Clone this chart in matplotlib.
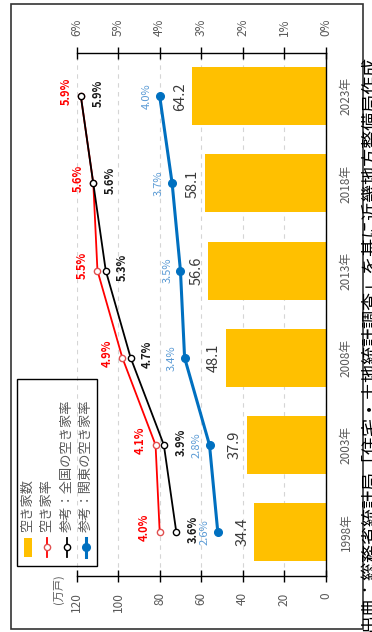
import matplotlib
matplotlib.use('Agg')
import matplotlib.pyplot as plt
from matplotlib.patches import Rectangle
from matplotlib.lines import Line2D

plt.rcParams['font.family'] = ['Noto Sans CJK JP', 'DejaVu Sans']

# data
years = ['1998年', '2003年', '2008年', '2013年', '2018年', '2023年']
akiya_count = [34.4, 37.9, 48.1, 56.6, 58.1, 64.2]      # 万戸
akiya_rate = [4.0, 4.1, 4.9, 5.5, 5.6, 5.9]              # %
zenkoku_rate = [3.6, 3.9, 4.7, 5.3, 5.6, 5.9]            # %
kanto_rate = [2.6, 2.8, 3.4, 3.5, 3.7, 4.0]              # %
count_ticks = [0, 20, 40, 60, 80, 100, 120]
rate_ticks = [0, 1, 2, 3, 4, 5, 6]
legend_labels = ['空き家数', '空き家率', '参考：全国の空き家率', '参考：関東の空き家率']
source = '出典：総務省統計局「住宅・土地統計調査」を基に近畿地方整備局作成'

W, H = 372, 632
def fx(px):
    return px / W
def fy(py):
    return 1 - py / H

GRAY = '#595959'
fig = plt.figure(figsize=(W / 100, H / 100), dpi=100)
ax = fig.add_axes([fx(76.7), fy(575.7), (325.7 - 76.7) / W, 523 / H])

pos = list(range(len(years)))
ax.barh(pos, akiya_count, height=0.665, color='#FFC000', zorder=2)
ax.set_xlim(120, 0)
ax.set_ylim(-0.5, len(years) - 0.5)
ax.set_xticks(count_ticks)
ax.set_xticklabels([str(t) for t in count_ticks])
ax.grid(axis='x', linestyle=(0, (4, 4)), color='#D5D5D5', lw=0.8)
ax.set_axisbelow(True)
for v, p in zip(akiya_count, pos):
    ax.annotate(f'{v}', (v, p), xytext=(-5, 0), textcoords='offset pixels',
                rotation=90, ha='right', va='center', fontsize=10.5, color='#3A3A3A')

ax2 = ax.twiny()
ax2.set_xlim(6, 0)
ax2.set_xticks(rate_ticks)
ax2.set_xticklabels([f'{t}%' for t in rate_ticks])

ax2.plot(akiya_rate, pos, color='#FF0000', lw=1.3, marker='o', ms=4.5,
         mfc='white', mec='#E05050', mew=1.0, zorder=3)
ax2.plot(zenkoku_rate, pos, color='black', lw=1.3, marker='o', ms=4.5,
         mfc='white', mec='black', mew=1.0, zorder=3)
ax2.plot(kanto_rate, pos, color='#0070C0', lw=2.2, marker='o', ms=5.5,
         mfc='#0070C0', mec='#0070C0', zorder=3)

for v, p in zip(akiya_rate, pos):
    ax2.annotate(f'{v:.1f}%', (v, p), xytext=(-15, 5), textcoords='offset pixels',
                 rotation=90, ha='center', va='center', fontsize=8,
                 fontweight='bold', color='#FF0000')
for v, p in zip(zenkoku_rate, pos):
    ax2.annotate(f'{v:.1f}%', (v, p), xytext=(17, 3), textcoords='offset pixels',
                 rotation=90, ha='center', va='center', fontsize=8,
                 fontweight='bold', color='#1A1A1A')
for v, p in zip(kanto_rate, pos):
    ax2.annotate(f'{v:.1f}%', (v, p), xytext=(-13, 0), textcoords='offset pixels',
                 rotation=90, ha='center', va='center', fontsize=8,
                 color='#5B9BD5')

# axes styling
ax.yaxis.tick_right()
ax.set_yticks(pos)
ax.set_yticklabels(years)
ax.tick_params(axis='y', length=0, pad=10, labelcolor=GRAY, labelsize=8.5, labelrotation=90)
for lab in ax.get_yticklabels():
    lab.set_va('center')
ax.tick_params(axis='x', direction='inout', length=8, width=1, pad=8,
               labelcolor=GRAY, labelsize=8.5, labelrotation=90)
ax2.tick_params(axis='x', direction='inout', length=8, width=1, pad=8,
                labelcolor=GRAY, labelsize=8.5, labelrotation=90)
for s in ['left', 'top']:
    ax.spines[s].set_visible(False)
for s in ['left', 'right', 'bottom']:
    ax2.spines[s].set_visible(False)
ax.spines['bottom'].set_linewidth(1)
ax.spines['right'].set_linewidth(1)
ax2.spines['top'].set_linewidth(1)

fig.text(fx(58), fy(589), '(万戸)', rotation=90, ha='center', va='center',
         fontsize=8, color=GRAY)

# legend (rotated, drawn by hand)
fig.add_artist(Rectangle((fx(17), fy(566)), fx(97) - fx(17), fy(379) - fy(566),
                         transform=fig.transFigure, fill=False, ec='black', lw=1))
fig.add_artist(Rectangle((fx(24), fy(557)), fx(32) - fx(24), fy(538) - fy(557),
                         transform=fig.transFigure, color='#FFC000', lw=0))
handle_styles = [
    dict(color='#FF0000', lw=1.3, mfc='white', mec='#E05050', ms=4.5),
    dict(color='black', lw=1.3, mfc='white', mec='black', ms=4.5),
    dict(color='#0070C0', lw=2.2, mfc='#0070C0', mec='#0070C0', ms=5.5),
]
for xc, st in zip([47, 67, 86], handle_styles):
    fig.add_artist(Line2D([fx(xc)] * 3, [fy(557), fy(547), fy(538)],
                          transform=fig.transFigure, marker='o', markevery=[1], **st))
for xc, lab in zip([28, 47, 67, 86], legend_labels):
    fig.text(fx(xc), fy(532), lab, rotation=90, ha='center', va='bottom',
             fontsize=9.5, color=GRAY)

# outer frame and source note
fig.add_artist(Rectangle((fx(10.5), fy(629)), fx(363) - fx(10.5), fy(3.5) - fy(629),
                         transform=fig.transFigure, fill=False, ec='#333333', lw=1.2))
fig.text(fx(362), fy(631), source, rotation=90, ha='left', va='bottom',
         fontsize=13, color='black')

fig.savefig('out.png', dpi=100)
